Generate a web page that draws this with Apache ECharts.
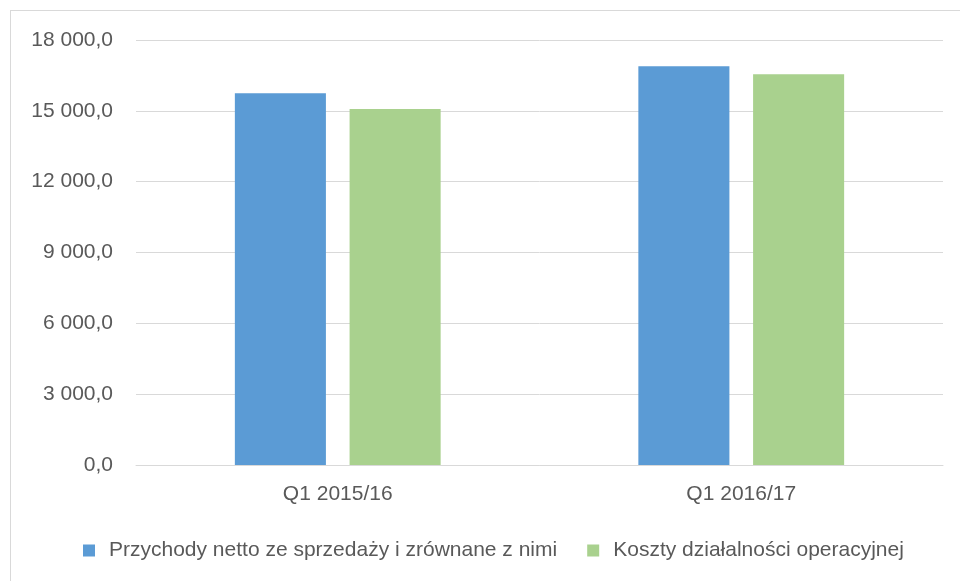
<!DOCTYPE html>
<html>
<head>
<meta charset="utf-8">
<script src="https://cdn.jsdelivr.net/npm/echarts@6/dist/echarts.min.js"></script>
<style>
  html, body { margin: 0; padding: 0; background: #fff; }
  #frame { position: absolute; left: 10px; top: 10px; width: 960px; height: 600px; border: 1px solid #d9d9d9; }
  #chart { position: absolute; left: 0; top: 0; width: 960px; height: 581px; }
</style>
</head>
<body>
<div id="frame"></div>
<div id="chart"></div>
<script>
  // dane
  const categories = ['Q1 2015/16', 'Q1 2016/17']
  const seriesNames = ['Przychody netto ze sprzedaży i zrównane z nimi', 'Koszty działalności operacyjnej']
  const przychody = [15745, 16890]
  const koszty = [15080, 16550]

  const font = '"Liberation Sans", sans-serif'
  const textColor = '#595959'

  const fmt = (v) => {
    const parts = v.toFixed(1).split('.')
    return parts[0].replace(/\B(?=(\d{3})+(?!\d))/g, ' ') + ',' + parts[1]
  }

  const chart = echarts.init(document.getElementById('chart'))
  chart.setOption({
    animation: false,
    grid: { left: 136, right: 17, top: 40, bottom: 116 },
    legend: {
      left: 78,
      top: 535,
      itemWidth: 12,
      itemHeight: 12,
      itemGap: 30,
      icon: 'rect',
      textStyle: { color: textColor, fontFamily: font, fontSize: 21, padding: [0, 0, 0, 9] },
      data: seriesNames
    },
    xAxis: {
      type: 'category',
      data: categories,
      axisLine: { lineStyle: { color: '#d9d9d9', width: 1 } },
      axisTick: { show: false },
      axisLabel: { color: textColor, fontFamily: font, fontSize: 21, margin: 19 }
    },
    yAxis: {
      type: 'value',
      min: 0,
      max: 18000,
      interval: 3000,
      axisLine: { show: false },
      axisTick: { show: false },
      splitLine: { lineStyle: { color: '#d9d9d9', width: 1 } },
      axisLabel: { color: textColor, fontFamily: font, fontSize: 21, margin: 23, formatter: fmt }
    },
    series: [
      {
        name: seriesNames[0],
        type: 'bar',
        data: przychody,
        barGap: '26%',
        barCategoryGap: '49%',
        itemStyle: { color: '#5B9BD5' }
      },
      {
        name: seriesNames[1],
        type: 'bar',
        data: koszty,
        itemStyle: { color: '#A9D18E' }
      }
    ]
  })
</script>
</body>
</html>
